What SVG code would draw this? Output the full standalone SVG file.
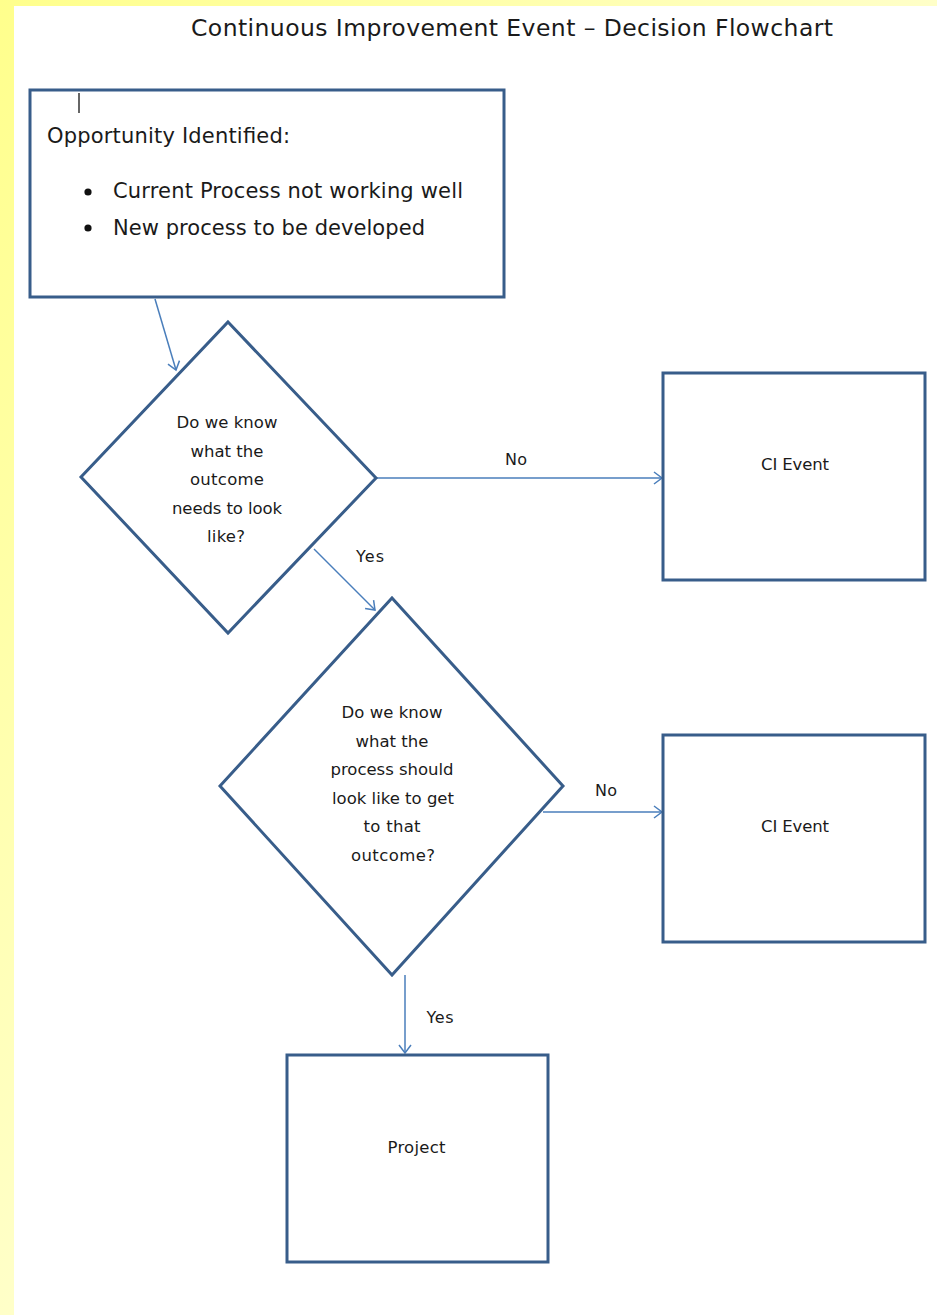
<svg xmlns="http://www.w3.org/2000/svg" width="937" height="1315" viewBox="0 0 937 1315">
  <style>
    .node { fill: #ffffff; stroke: #385D8A; stroke-width: 3; }
    .lbl { font-family: "DejaVu Sans", "Liberation Sans", sans-serif; font-size: 16.5px; fill: #1a1a1a; text-anchor: middle; }
    .elbl { font-family: "DejaVu Sans", "Liberation Sans", sans-serif; font-size: 16px; fill: #1a1a1a; text-anchor: middle; }
    .big { font-family: "DejaVu Sans", "Liberation Sans", sans-serif; font-size: 21px; fill: #1a1a1a; }
    .title { font-family: "DejaVu Sans", "Liberation Sans", sans-serif; font-size: 23.5px; fill: #1a1a1a; text-anchor: middle; }
    .conn { fill: none; stroke: #4A7EBB; stroke-width: 1.5; }
  </style>
  <defs>
    <linearGradient id="bg" x1="0" y1="0" x2="1" y2="1">
      <stop offset="0" stop-color="#FFFF8C"/>
      <stop offset="0.5" stop-color="#FFFFC8"/>
      <stop offset="1" stop-color="#FFFFE4"/>
    </linearGradient>
    <marker id="arr" markerUnits="userSpaceOnUse" markerWidth="14" markerHeight="14" refX="11" refY="7" orient="auto">
      <path d="M3,1 L11,7 L3,13" fill="none" stroke="#4A7EBB" stroke-width="1.5"/>
    </marker>
  </defs>

  <rect x="0" y="0" width="937" height="1315" fill="url(#bg)"/>
  <rect x="14" y="6" width="923" height="1309" fill="#ffffff"/>

  <text class="title" x="512" y="36" textLength="642">Continuous Improvement Event – Decision Flowchart</text>

  <g id="connectors">
    <line class="conn" x1="155" y1="299" x2="176" y2="370" marker-end="url(#arr)"/>
    <line class="conn" x1="376" y1="478" x2="662" y2="478" marker-end="url(#arr)"/>
    <text class="elbl" x="516" y="465" textLength="22">No</text>
    <line class="conn" x1="314" y1="549" x2="375" y2="610" marker-end="url(#arr)"/>
    <text class="elbl" x="370" y="562" textLength="28">Yes</text>
    <line class="conn" x1="543" y1="812" x2="662" y2="812" marker-end="url(#arr)"/>
    <text class="elbl" x="606" y="796" textLength="22">No</text>
    <line class="conn" x1="405" y1="975" x2="405" y2="1053" marker-end="url(#arr)"/>
    <text class="elbl" x="440" y="1023" textLength="27">Yes</text>
  </g>

  <g id="start">
    <rect class="node" x="30" y="90" width="474" height="207"/>
    <line x1="79" y1="93" x2="79" y2="113" stroke="#333333" stroke-width="1.5"/>
    <text class="big" x="47" y="143" textLength="243">Opportunity Identified:</text>
    <circle cx="88" cy="192" r="3.6" fill="#111111"/>
    <text class="big" x="113" y="198" textLength="350">Current Process not working well</text>
    <circle cx="88" cy="228" r="3.6" fill="#111111"/>
    <text class="big" x="113" y="235" textLength="312">New process to be developed</text>
  </g>

  <g id="decision1">
    <polygon class="node" points="228,322 376,478 228,633 81,477"/>
    <text class="lbl" x="227" y="428" textLength="101">Do we know</text>
    <text class="lbl" x="227" y="456.5" textLength="73">what the</text>
    <text class="lbl" x="227" y="485" textLength="74">outcome</text>
    <text class="lbl" x="227" y="513.5" textLength="110">needs to look</text>
    <text class="lbl" x="226" y="542" textLength="38">like?</text>
  </g>

  <g id="ci-event-1">
    <rect class="node" x="663" y="373" width="262" height="207"/>
    <text class="lbl" x="795" y="470" textLength="68">CI Event</text>
  </g>

  <g id="decision2">
    <polygon class="node" points="392,598 563,786 392,975 220,786"/>
    <text class="lbl" x="392" y="718" textLength="101">Do we know</text>
    <text class="lbl" x="392" y="746.5" textLength="73">what the</text>
    <text class="lbl" x="392" y="775" textLength="123">process should</text>
    <text class="lbl" x="393" y="803.5" textLength="122">look like to get</text>
    <text class="lbl" x="392" y="832" textLength="57">to that</text>
    <text class="lbl" x="393" y="860.5" textLength="84">outcome?</text>
  </g>

  <g id="ci-event-2">
    <rect class="node" x="663" y="735" width="262" height="207"/>
    <text class="lbl" x="795" y="832" textLength="68">CI Event</text>
  </g>

  <g id="project">
    <rect class="node" x="287" y="1055" width="261" height="207"/>
    <text class="lbl" x="416.5" y="1153" textLength="58">Project</text>
  </g>
</svg>
